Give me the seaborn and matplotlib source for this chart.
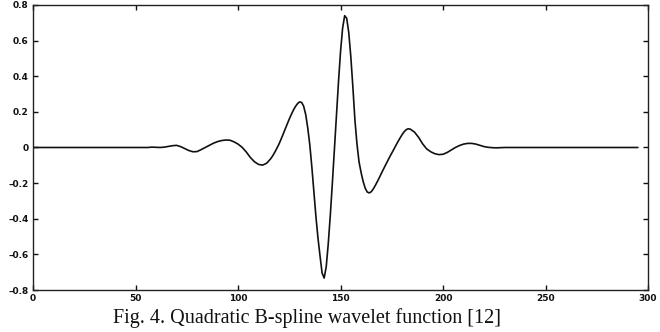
import matplotlib
matplotlib.use("Agg")
import matplotlib.pyplot as plt
import seaborn as sns
import pandas as pd

# sample positions (x) and wavelet values (y)
x_vals = [0, 56, 58, 60, 62, 64, 66, 68, 70, 72, 74, 76, 78, 80, 82, 84, 86, 88, 90,
          92, 94, 96, 98, 100, 102, 104, 106, 108, 110, 112, 114, 116, 117, 118, 119,
          120, 121, 122, 123, 124, 125, 126, 127, 128, 129, 130, 131, 132, 133, 134,
          135, 136, 137, 138, 139, 140, 141, 142, 143, 144, 145, 146, 147, 148, 149,
          150, 151, 152, 153, 154, 155, 156, 157, 158, 159, 160, 161, 162, 163, 164,
          165, 166, 167, 168, 169, 170, 171, 172, 174, 176, 177, 178, 179, 180, 181,
          182, 183, 184, 186, 188, 190, 192, 194, 196, 198, 200, 202, 204, 206, 208,
          210, 212, 214, 216, 218, 220, 222, 224, 226, 228, 230, 295]
y_vals = [0.0, 0.0, 0.002, 0.001, 0.0, 0.002, 0.006, 0.010, 0.012, 0.005, -0.006,
          -0.017, -0.024, -0.023, -0.012, 0.0, 0.012, 0.024, 0.033,
          0.039, 0.042, 0.041, 0.032, 0.019, 0.001, -0.025, -0.056, -0.080, -0.095,
          -0.099, -0.088, -0.062, -0.045, -0.025, -0.003,
          0.020, 0.047, 0.075, 0.104, 0.132, 0.160, 0.186, 0.210, 0.230, 0.246,
          0.256, 0.253, 0.232, 0.185, 0.110,
          0.015, -0.110, -0.250, -0.390, -0.510, -0.610, -0.705, -0.733, -0.670,
          -0.540, -0.380, -0.200, -0.010, 0.180, 0.370,
          0.540, 0.670, 0.740, 0.725, 0.645, 0.510, 0.340, 0.155, 0.020, -0.080,
          -0.140, -0.190, -0.228, -0.250, -0.255,
          -0.248, -0.232, -0.212, -0.190, -0.167, -0.143, -0.120, -0.097, -0.052,
          -0.010, 0.012, 0.033, 0.053, 0.072, 0.088,
          0.100, 0.105, 0.103, 0.087, 0.058, 0.021, -0.008, -0.024, -0.035, -0.040,
          -0.038, -0.028, -0.014, 0.0, 0.011,
          0.019, 0.023, 0.023, 0.019, 0.012, 0.005, 0.001, -0.001, -0.002, -0.001,
          0.0, 0.0]

x_ticks = [0, 50, 100, 150, 200, 250, 300]
y_ticks = [-0.8, -0.6, -0.4, -0.2, 0, 0.2, 0.4, 0.6, 0.8]
y_tick_labels = ["\u20130.8", "\u20130.6", "\u20130.4", "\u20130.2", "0",
                 "0.2", "0.4", "0.6", "0.8"]
caption = "Fig. 4. Quadratic B-spline wavelet function [12]"

sns.set_style("ticks")
plt.rcParams["font.family"] = ["DejaVu Sans"]

df = pd.DataFrame({"x": x_vals, "y": y_vals})

fig = plt.figure(figsize=(6.6, 3.32), dpi=100)
ax = fig.add_axes([0.05, 0.1265, 0.932, 0.8585])
sns.lineplot(data=df, x="x", y="y", ax=ax, color="#111111", linewidth=1.2,
             estimator=None, sort=False)

ax.set_xlim(0, 300)
ax.set_ylim(-0.8, 0.8)
ax.set_xticks(x_ticks)
ax.set_xticklabels([str(t) for t in x_ticks])
ax.set_yticks(y_ticks)
ax.set_yticklabels(y_tick_labels)
ax.set_xlabel("")
ax.set_ylabel("")
for s in ax.spines.values():
    s.set_visible(True)
    s.set_linewidth(1.0)
    s.set_color("#222222")
ax.tick_params(direction="in", length=3.5, width=1.0, top=True, right=True,
               labelsize=6.5, pad=3, colors="#111111")
for lab in ax.get_xticklabels() + ax.get_yticklabels():
    lab.set_fontweight("bold")

fig.text(0.171, 0.042, caption, ha="left", va="center", fontsize=14.5,
         family=["Liberation Serif", "DejaVu Serif"], color="#111111")

fig.savefig("out.png", dpi=100)
